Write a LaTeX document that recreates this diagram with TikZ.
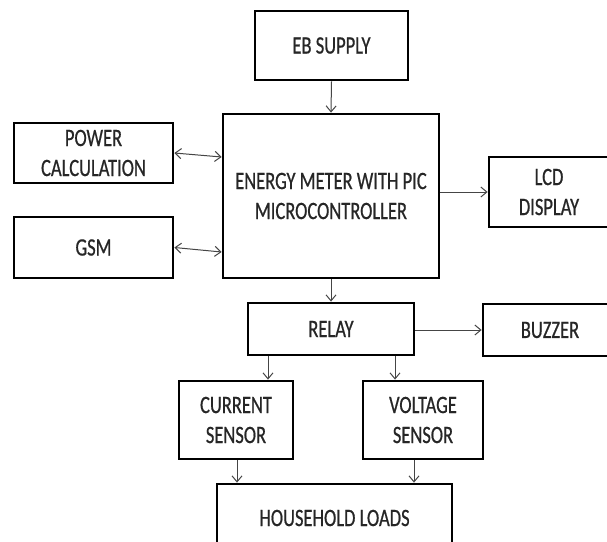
\documentclass[tikz,border=0pt]{standalone}
\usepackage{fontspec}
\setmainfont[FakeStretch=0.74,FakeBold=0.6]{Carlito}
\usetikzlibrary{arrows.meta}
\definecolor{linegray}{HTML}{454545}
\definecolor{txt}{HTML}{262626}
\begin{document}
\begin{tikzpicture}[x=1pt,y=-1pt,
  blk/.style={draw=black, line width=2.8pt, fill=white, text=txt, align=center,
    inner sep=0pt, font=\fontsize{25}{30}\selectfont},
  arr/.style={draw=linegray, line width=1pt, -{Straight Barb[length=6pt,width=10pt]}},
  darr/.style={draw=linegray, line width=1pt, {Straight Barb[length=6pt,width=10pt]}-{Straight Barb[length=6pt,width=10pt]}}]
\useasboundingbox (0,0) rectangle (607,541);
\clip (0,0) rectangle (607,541);
\fill[white] (0,0) rectangle (607,541);
\node[blk, minimum width=153pt, minimum height=69pt] (eb) at (331.5,45.5) {EB SUPPLY};
\node[blk, minimum width=216pt, minimum height=164pt] (main) at (331,196) {ENERGY METER WITH PIC\\MICROCONTROLLER};
\node[blk, minimum width=159pt, minimum height=60pt] (pc) at (93.5,153) {POWER\\CALCULATION};
\node[blk, minimum width=159pt, minimum height=61pt] (gsm) at (93.5,247.5) {GSM};
\node[blk, minimum width=120pt, minimum height=70pt] (lcd) at (549,192) {LCD\\DISPLAY};
\node[blk, minimum width=166pt, minimum height=52pt] (relay) at (331,329) {RELAY};
\node[blk, minimum width=134pt, minimum height=52pt] (buzzer) at (550,330) {BUZZER};
\node[blk, minimum width=114pt, minimum height=78pt] (cur) at (236,420) {CURRENT\\SENSOR};
\node[blk, minimum width=120pt, minimum height=78pt] (volt) at (423,420) {VOLTAGE\\SENSOR};
\node[blk, minimum width=235pt, minimum height=68pt] (loads) at (334.5,518) {HOUSEHOLD LOADS};
\draw[arr] (eb.south) -- (main.north);
\draw[darr] (pc.east) -- (main.west |- 0,157);
\draw[darr] (gsm.east) -- (main.west |- 0,252);
\draw[arr] (main.east |- lcd.west) -- (lcd.west);
\draw[arr] (main.south) -- (relay.north);
\draw[arr] (relay.east |- buzzer.west) -- (buzzer.west);
\draw[arr] (relay.south -| 268,0) -- (cur.north -| 268,0);
\draw[arr] (relay.south -| 395,0) -- (volt.north -| 395,0);
\draw[arr] (cur.south -| 237,0) -- (loads.north -| 237,0);
\draw[arr] (volt.south -| 414,0) -- (loads.north -| 414,0);
\end{tikzpicture}
\end{document}
